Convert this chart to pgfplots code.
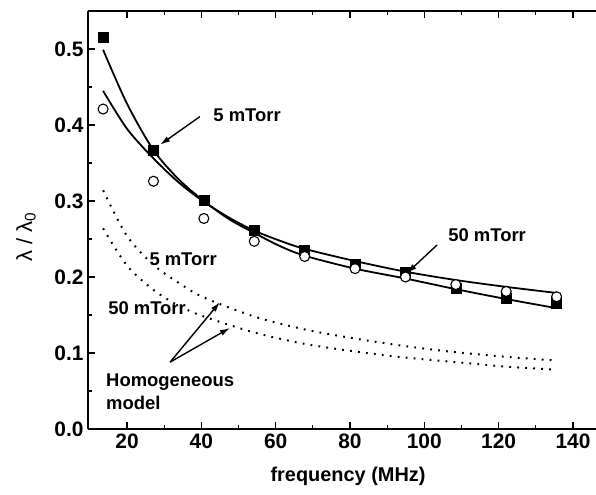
\documentclass[border=0pt]{standalone}
\usepackage{pgfplots}
\pgfplotsset{compat=1.18}
\usepackage{fontspec}
\setmainfont{Liberation Sans}
\usetikzlibrary{arrows.meta}

\begin{document}
\begin{tikzpicture}
\begin{axis}[
    name=ax,
    scale only axis,
    width=508bp, height=418bp,
    xmin=9.5, xmax=146.2,
    ymin=0, ymax=0.55,
    separate axis lines,
    axis line style={line width=1.3bp},
    every outer y axis line/.append style={draw=none},
    ytick pos=left,
    xtick pos=both,
    xtick={20,40,...,140},
    ytick={0,0.1,...,0.5},
    minor x tick num=1,
    minor y tick num=1,
    tick align=inside,
    major tick length=7bp,
    minor tick length=4bp,
    every tick/.style={line width=1.2bp, black},
    xticklabel style={font=\fontsize{21}{21}\selectfont\bfseries, yshift=-1bp},
    yticklabel style={font=\fontsize{21}{21}\selectfont\bfseries, xshift=-1bp,
        /pgf/number format/fixed, /pgf/number format/fixed zerofill, /pgf/number format/precision=1},
    /pgf/number format/assume math mode=true,
    xlabel={frequency (MHz)},
    ylabel={λ / λ\textsubscript{0}},
    xlabel style={font=\fontsize{20}{20}\selectfont\bfseries, at={(axis description cs:0.512,-0.114)}, anchor=center},
    ylabel style={font=\fontsize{22}{22}\selectfont, at={(axis description cs:-0.122,0.459)}, anchor=center},
    clip=false,
]
\draw[line width=1.3bp] (rel axis cs:0,0) -- (rel axis cs:0,1);
% 5 mTorr fit
\addplot[smooth, line width=1.8bp, black] coordinates {
 (13.56,0.499) (20,0.428) (27.12,0.367) (34,0.328) (40.68,0.300) (47.5,0.276)
 (54.24,0.258) (61,0.241) (67.8,0.228) (81.36,0.211) (94.92,0.198)
 (108.48,0.184) (122.04,0.171) (135.6,0.159)
};
% 50 mTorr fit
\addplot[smooth, line width=1.8bp, black] coordinates {
 (13.56,0.445) (20,0.395) (27.12,0.356) (34,0.324) (40.68,0.299) (47.5,0.278)
 (54.24,0.261) (61,0.248) (67.8,0.237) (81.36,0.221) (94.92,0.207)
 (108.48,0.196) (122.04,0.187) (135.6,0.179)
};
% homogeneous model, 5 mTorr
\addplot[smooth, line width=2bp, black, dash pattern=on 1.8bp off 6.2bp] coordinates {
 (13.56,0.314) (20,0.254) (27.12,0.216) (34,0.192) (40.68,0.173) (54.24,0.148)
 (67.8,0.131) (81.36,0.119) (94.92,0.109) (108.48,0.101) (122.04,0.095) (135.6,0.090)
};
% homogeneous model, 50 mTorr
\addplot[smooth, line width=2bp, black, dash pattern=on 1.8bp off 6.2bp] coordinates {
 (13.56,0.264) (20,0.215) (27.12,0.183) (34,0.162) (40.68,0.148) (54.24,0.127)
 (67.8,0.112) (81.36,0.102) (94.92,0.094) (108.48,0.088) (122.04,0.082) (135.6,0.078)
};
% measured, 5 mTorr
\addplot[only marks, mark=square*, mark size=5bp, black] coordinates {
 (13.56,0.515) (27.12,0.367) (40.68,0.301) (54.24,0.261) (67.8,0.235)
 (81.36,0.217) (94.92,0.206) (108.48,0.185) (122.04,0.172) (135.6,0.165)
};
% measured, 50 mTorr
\addplot[only marks, mark=*, mark size=5bp, mark options={fill=white, draw=black, line width=1.1bp}] coordinates {
 (13.56,0.421) (27.12,0.326) (40.68,0.277) (54.24,0.247) (67.8,0.227)
 (81.36,0.211) (94.92,0.200) (108.48,0.190) (122.04,0.181) (135.6,0.174)
};

\node[font=\fontsize{18.5}{18.5}\selectfont\bfseries] at (axis cs:52.3,0.413) {5 mTorr};
\draw[line width=1.4bp, -{Latex[length=10bp,width=6bp]}] (axis cs:39.6,0.411) -- (axis cs:28.9,0.374);
\node[font=\fontsize{18.5}{18.5}\selectfont\bfseries] at (axis cs:116.9,0.255) {50 mTorr};
\draw[line width=1.4bp, -{Latex[length=10bp,width=6bp]}] (axis cs:103.4,0.242) -- (axis cs:95.3,0.205);
\node[font=\fontsize{18.5}{18.5}\selectfont\bfseries] at (axis cs:35.1,0.224) {5 mTorr};
\node[font=\fontsize{18.5}{18.5}\selectfont\bfseries] at (axis cs:25.4,0.159) {50 mTorr};
\node[font=\fontsize{18.5}{23}\selectfont\bfseries, align=left, anchor=west, inner sep=0pt] at (axis cs:14.35,0.049) {Homogeneous\\model};
\draw[line width=1.4bp, -{Latex[length=10bp,width=6bp]}] (axis cs:31.6,0.088) -- (axis cs:45.0,0.167);
\draw[line width=1.4bp, -{Latex[length=10bp,width=6bp]}] (axis cs:31.6,0.088) -- (axis cs:47.7,0.133);
\end{axis}
\pgfresetboundingbox
\path (ax.south west) ++(-88bp,-66bp) rectangle ([yshift=11bp]ax.north east);
\end{tikzpicture}
\end{document}
